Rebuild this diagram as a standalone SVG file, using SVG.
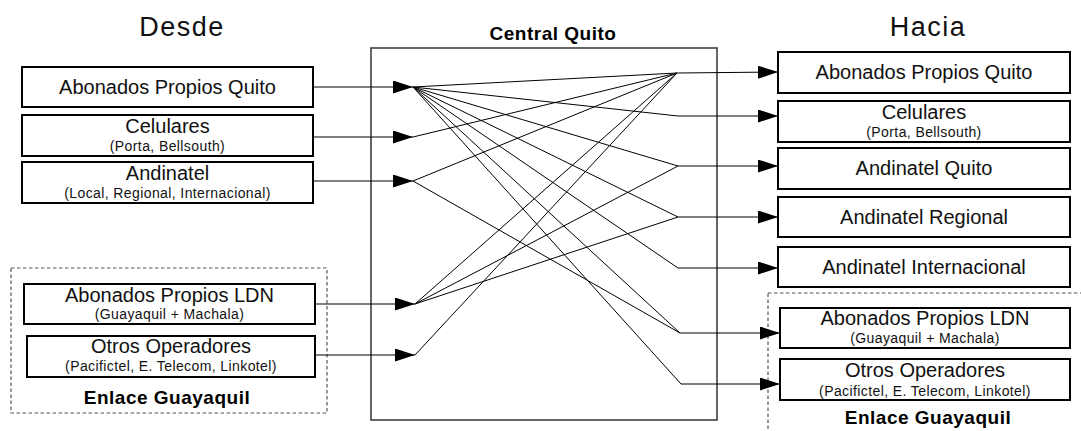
<svg xmlns="http://www.w3.org/2000/svg" width="1081" height="431" viewBox="0 0 1081 431">
  <defs>
    <marker id="arrow" viewBox="0 0 20 13" refX="20" refY="6.5" markerWidth="20" markerHeight="13" markerUnits="userSpaceOnUse" orient="auto">
      <path d="M0,0 L20,6.5 L0,13 z" fill="#000"/>
    </marker>
    <style>
      .box { fill: #fff; stroke: #000; stroke-width: 2; }
      .group { fill: none; stroke: #555; stroke-width: 1.2; stroke-dasharray: 3.5 2.5; }
      .switch { fill: none; stroke: #333; stroke-width: 1.5; }
      .title { font-family: "Liberation Sans", Arial, sans-serif; font-size: 27px; fill: #111; text-anchor: middle; }
      .label { font-family: "Liberation Sans", Arial, sans-serif; font-size: 20px; fill: #111; text-anchor: middle; }
      .sub { font-family: "Liberation Sans", Arial, sans-serif; font-size: 14px; fill: #111; text-anchor: middle; letter-spacing: 0.4px; }
      .bold { font-family: "Liberation Sans", Arial, sans-serif; font-size: 19px; font-weight: bold; fill: #000; text-anchor: middle; }
      .feed { fill: none; stroke: #000; stroke-width: 1; }
      .cross { fill: none; stroke: #000; stroke-width: 1; }
    </style>
  </defs>

  <rect width="1081" height="431" fill="#fff"/>

  <!-- column headings -->
  <text class="title" x="182" y="36" letter-spacing="1.5">Desde</text>
  <text class="title" x="928" y="36" letter-spacing="1.5">Hacia</text>

  <!-- switching centre -->
  <g id="central-quito">
    <rect class="switch" x="371" y="48" width="346" height="372"/>
    <text class="bold" x="553" y="40" letter-spacing="0.5">Central Quito</text>
  </g>

  <!-- origin side -->
  <g id="from-abonados-quito">
    <rect class="box" x="22" y="67" width="291" height="40"/>
    <text class="label" x="167.5" y="94">Abonados Propios Quito</text>
  </g>
  <g id="from-celulares">
    <rect class="box" x="22" y="115" width="291" height="41"/>
    <text class="label" x="167.5" y="133">Celulares</text>
    <text class="sub" x="167.5" y="151">(Porta, Bellsouth)</text>
  </g>
  <g id="from-andinatel">
    <rect class="box" x="22" y="162" width="291" height="41"/>
    <text class="label" x="167.5" y="180">Andinatel</text>
    <text class="sub" x="167.5" y="198">(Local, Regional, Internacional)</text>
  </g>
  <g id="from-enlace-guayaquil">
    <rect class="group" x="11" y="268" width="316" height="145"/>
    <text class="bold" x="167" y="404" letter-spacing="0.5">Enlace Guayaquil</text>
  </g>
  <g id="from-abonados-ldn">
    <rect class="box" x="24" y="284" width="291" height="40"/>
    <text class="label" x="169.5" y="302">Abonados Propios LDN</text>
    <text class="sub" x="169.5" y="319">(Guayaquil + Machala)</text>
  </g>
  <g id="from-otros-operadores">
    <rect class="box" x="27" y="336" width="288" height="41"/>
    <text class="label" x="171" y="353">Otros Operadores</text>
    <text class="sub" x="171" y="371">(Pacifictel, E. Telecom, Linkotel)</text>
  </g>

  <!-- destination side -->
  <g id="to-abonados-quito">
    <rect class="box" x="778" y="52" width="292" height="41"/>
    <text class="label" x="924" y="79">Abonados Propios Quito</text>
  </g>
  <g id="to-celulares">
    <rect class="box" x="778" y="101" width="292" height="41"/>
    <text class="label" x="924" y="119">Celulares</text>
    <text class="sub" x="924" y="137">(Porta, Bellsouth)</text>
  </g>
  <g id="to-andinatel-quito">
    <rect class="box" x="778" y="148" width="292" height="41"/>
    <text class="label" x="924" y="175">Andinatel Quito</text>
  </g>
  <g id="to-andinatel-regional">
    <rect class="box" x="778" y="197" width="292" height="40"/>
    <text class="label" x="924" y="224">Andinatel Regional</text>
  </g>
  <g id="to-andinatel-internacional">
    <rect class="box" x="778" y="247" width="292" height="40"/>
    <text class="label" x="924" y="274">Andinatel Internacional</text>
  </g>
  <g id="to-enlace-guayaquil">
    <rect class="group" x="768" y="293" width="340" height="160"/>
    <text class="bold" x="928" y="424" letter-spacing="0.5">Enlace Guayaquil</text>
  </g>
  <g id="to-abonados-ldn">
    <rect class="box" x="780" y="308" width="290" height="40"/>
    <text class="label" x="925" y="325">Abonados Propios LDN</text>
    <text class="sub" x="925" y="343">(Guayaquil + Machala)</text>
  </g>
  <g id="to-otros-operadores">
    <rect class="box" x="780" y="359" width="290" height="41"/>
    <text class="label" x="925" y="377">Otros Operadores</text>
    <text class="sub" x="925" y="396">(Pacifictel, E. Telecom, Linkotel)</text>
  </g>

  <!-- routes through the switch -->
  <g id="connectors">
    <!-- incoming trunks -->
    <line class="feed" x1="313" y1="87" x2="413" y2="87" marker-end="url(#arrow)"/>
    <line class="feed" x1="313" y1="137" x2="413" y2="137" marker-end="url(#arrow)"/>
    <line class="feed" x1="313" y1="181" x2="413" y2="181" marker-end="url(#arrow)"/>
    <line class="feed" x1="315" y1="304" x2="415" y2="304" marker-end="url(#arrow)"/>
    <line class="feed" x1="315" y1="355" x2="415" y2="355" marker-end="url(#arrow)"/>

    <!-- Abonados Propios Quito to every destination -->
    <line class="cross" x1="413" y1="87" x2="677" y2="73"/>
    <line class="cross" x1="413" y1="87" x2="678" y2="116"/>
    <line class="cross" x1="413" y1="87" x2="678" y2="166"/>
    <line class="cross" x1="413" y1="87" x2="678" y2="217"/>
    <line class="cross" x1="413" y1="87" x2="678" y2="268"/>
    <line class="cross" x1="413" y1="87" x2="680" y2="333"/>
    <line class="cross" x1="413" y1="87" x2="681" y2="384"/>
    <!-- Celulares -->
    <line class="cross" x1="413" y1="137" x2="677" y2="73"/>
    <!-- Andinatel -->
    <line class="cross" x1="413" y1="181" x2="677" y2="73"/>
    <line class="cross" x1="413" y1="181" x2="680" y2="333"/>
    <!-- Abonados Propios LDN -->
    <line class="cross" x1="415" y1="304" x2="677" y2="73"/>
    <line class="cross" x1="415" y1="304" x2="678" y2="166"/>
    <line class="cross" x1="415" y1="304" x2="678" y2="217"/>
    <!-- Otros Operadores -->
    <line class="cross" x1="415" y1="355" x2="677" y2="73"/>

    <!-- outgoing trunks -->
    <line class="feed" x1="677" y1="73" x2="778" y2="72" marker-end="url(#arrow)"/>
    <line class="feed" x1="678" y1="116" x2="778" y2="116" marker-end="url(#arrow)"/>
    <line class="feed" x1="678" y1="166" x2="778" y2="166" marker-end="url(#arrow)"/>
    <line class="feed" x1="678" y1="217" x2="778" y2="217" marker-end="url(#arrow)"/>
    <line class="feed" x1="678" y1="268" x2="778" y2="268" marker-end="url(#arrow)"/>
    <line class="feed" x1="680" y1="333" x2="780" y2="333" marker-end="url(#arrow)"/>
    <line class="feed" x1="681" y1="384" x2="780" y2="384" marker-end="url(#arrow)"/>
  </g>
</svg>
